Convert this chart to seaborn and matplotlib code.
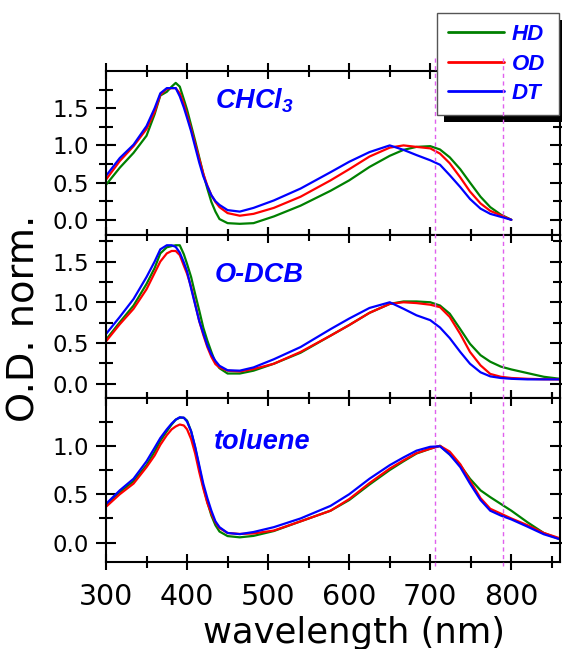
import numpy as np
import pandas as pd
import matplotlib
matplotlib.use("Agg")
import matplotlib.pyplot as plt
import seaborn as sns
from matplotlib.ticker import FixedLocator, MultipleLocator, FormatStrFormatter
from matplotlib.lines import Line2D
from matplotlib.patches import Rectangle
from matplotlib.font_manager import FontProperties
from matplotlib.transforms import blended_transform_factory

# ---------------- data ----------------
samples = ["HD", "OD", "DT"]
sample_colors = ["#008000", "#ff0000", "#0000ff"]
solvent_labels = ["CHCl$_3$", "O-DCB", "toluene"]

wavelength_chcl3 = [300, 317, 334, 350, 360, 367, 375, 381, 386, 391, 396, 400, 405, 410, 415,
                    420, 425, 430, 435, 440, 450, 465, 482, 507, 540, 577, 600, 625, 650, 667,
                    683, 700, 712, 724, 737, 749, 762, 774, 787, 800]
chcl3_HD = [0.47, 0.70, 0.90, 1.13, 1.42, 1.67, 1.72, 1.79, 1.84, 1.79, 1.62, 1.48, 1.27, 1.06, 0.84,
            0.62, 0.42, 0.24, 0.11, 0.01, -0.045, -0.054, -0.045, 0.045, 0.19, 0.39, 0.53, 0.71, 0.86, 0.94,
            0.98, 0.99, 0.945, 0.84, 0.68, 0.50, 0.31, 0.17, 0.07, 0.0]
chcl3_OD = [0.54, 0.79, 0.99, 1.22, 1.45, 1.68, 1.76, 1.77, 1.77, 1.70, 1.56, 1.41, 1.22, 1.02, 0.82,
            0.62, 0.46, 0.33, 0.24, 0.17, 0.09, 0.055, 0.08, 0.16, 0.31, 0.53, 0.68, 0.85, 0.97, 1.0,
            0.98, 0.96, 0.89, 0.76, 0.57, 0.38, 0.22, 0.12, 0.06, 0.0]
chcl3_DT = [0.59, 0.83, 1.01, 1.26, 1.50, 1.70, 1.77, 1.77, 1.77, 1.66, 1.51, 1.37, 1.19, 0.98, 0.77,
            0.585, 0.45, 0.33, 0.25, 0.20, 0.13, 0.11, 0.16, 0.26, 0.42, 0.64, 0.78, 0.91, 1.0, 0.94,
            0.87, 0.80, 0.74, 0.60, 0.44, 0.28, 0.15, 0.08, 0.04, 0.0]

wavelength_odcb = [300, 317, 334, 350, 360, 367, 375, 381, 386, 391, 396, 400, 405, 410, 415,
                   420, 425, 430, 435, 440, 450, 465, 482, 507, 540, 577, 600, 625, 650, 667,
                   683, 700, 712, 724, 737, 749, 762, 774, 787, 800, 820, 840, 860]
odcb_HD = [0.54, 0.755, 0.96, 1.225, 1.42, 1.60, 1.675, 1.69, 1.70, 1.70, 1.59, 1.47, 1.31, 1.10, 0.90,
           0.69, 0.53, 0.39, 0.26, 0.19, 0.125, 0.125, 0.16, 0.245, 0.38, 0.59, 0.72, 0.87, 0.98, 1.01,
           1.01, 1.0, 0.96, 0.86, 0.67, 0.49, 0.35, 0.27, 0.21, 0.175, 0.13, 0.085, 0.06]
odcb_OD = [0.52, 0.73, 0.92, 1.16, 1.36, 1.50, 1.60, 1.63, 1.63, 1.58, 1.45, 1.35, 1.19, 0.98, 0.77,
           0.60, 0.45, 0.33, 0.24, 0.20, 0.16, 0.15, 0.18, 0.245, 0.39, 0.59, 0.72, 0.87, 0.98, 1.0,
           0.99, 0.97, 0.94, 0.82, 0.61, 0.39, 0.225, 0.12, 0.085, 0.07, 0.06, 0.055, 0.053]
odcb_DT = [0.61, 0.82, 1.04, 1.31, 1.50, 1.65, 1.70, 1.70, 1.68, 1.61, 1.49, 1.38, 1.17, 0.97, 0.77,
           0.62, 0.47, 0.36, 0.28, 0.22, 0.165, 0.16, 0.20, 0.30, 0.45, 0.67, 0.80, 0.93, 1.0, 0.92,
           0.84, 0.78, 0.69, 0.56, 0.39, 0.245, 0.14, 0.09, 0.07, 0.06, 0.053, 0.053, 0.053]

wavelength_toluene = [300, 317, 334, 350, 360, 367, 375, 381, 386, 391, 396, 400, 405, 410, 415,
                      420, 425, 430, 435, 440, 450, 465, 482, 507, 540, 577, 600, 625, 650, 667,
                      683, 700, 712, 724, 737, 749, 762, 774, 787, 800, 820, 840, 860]
toluene_HD = [0.39, 0.52, 0.635, 0.80, 0.94, 1.05, 1.15, 1.22, 1.27, 1.29, 1.29, 1.26, 1.15, 0.98, 0.78,
              0.58, 0.42, 0.28, 0.18, 0.115, 0.068, 0.055, 0.07, 0.12, 0.22, 0.33, 0.44, 0.60, 0.75, 0.84,
              0.92, 0.97, 1.0, 0.91, 0.80, 0.66, 0.54, 0.47, 0.40, 0.33, 0.21, 0.10, 0.035]
toluene_OD = [0.37, 0.50, 0.61, 0.78, 0.90, 1.01, 1.11, 1.17, 1.20, 1.22, 1.21, 1.17, 1.07, 0.92, 0.73,
              0.56, 0.41, 0.30, 0.21, 0.15, 0.10, 0.09, 0.095, 0.125, 0.22, 0.33, 0.45, 0.615, 0.765, 0.85,
              0.925, 0.97, 1.0, 0.94, 0.81, 0.64, 0.46, 0.35, 0.30, 0.25, 0.18, 0.10, 0.045]
toluene_DT = [0.40, 0.54, 0.66, 0.84, 0.98, 1.08, 1.17, 1.23, 1.27, 1.295, 1.29, 1.25, 1.15, 0.99, 0.80,
              0.61, 0.46, 0.33, 0.22, 0.16, 0.10, 0.088, 0.11, 0.16, 0.25, 0.38, 0.50, 0.66, 0.80, 0.88,
              0.95, 0.99, 0.995, 0.91, 0.78, 0.61, 0.44, 0.33, 0.28, 0.24, 0.165, 0.087, 0.035]

marker_lines_nm = [706, 790]
x_major_ticks = [300, 400, 500, 600, 700, 800]
panel_label_pos = [(434.6, 1.50), (434.6, 1.25), (432.5, 0.97)]

# --------------- long-form tables ---------------
panels = [
    (wavelength_chcl3, [chcl3_HD, chcl3_OD, chcl3_DT]),
    (wavelength_odcb, [odcb_HD, odcb_OD, odcb_DT]),
    (wavelength_toluene, [toluene_HD, toluene_OD, toluene_DT]),
]
frames = []
for wl, series in panels:
    parts = [pd.DataFrame({"wavelength": wl, "od": vals, "sample": name})
             for name, vals in zip(samples, series)]
    frames.append(pd.concat(parts, ignore_index=True))

# --------------- style ---------------
sns.set_theme(style="ticks")
plt.rcParams["font.family"] = ["DejaVu Sans"]
plt.rcParams.update({
    "axes.linewidth": 1.5,
    "axes.edgecolor": "black",
    "mathtext.fontset": "custom",
    "mathtext.rm": "Liberation Sans:bold:italic",
    "mathtext.it": "Liberation Sans:bold:italic",
    "mathtext.bf": "Liberation Sans:bold:italic",
})

fig, axes = plt.subplots(3, 1, figsize=(5.62, 6.49), dpi=100, sharex=True)
fig.subplots_adjust(left=0.1886, right=0.9964, bottom=0.134, top=0.8906, hspace=0)

palette = dict(zip(samples, sample_colors))
ylims = [(-0.2, 2.0), (-0.18, 1.83), (-0.2, 1.49)]
y_major = [[0, 0.5, 1.0, 1.5], [0, 0.5, 1.0, 1.5], [0, 0.5, 1.0]]
y_minor = [[0.25, 0.75, 1.25, 1.75], [0.25, 0.75, 1.25, 1.75], [0.25, 0.75, 1.25]]

label_font = FontProperties(family="Liberation Sans", weight="bold", style="italic", size=19.5)

for i, ax in enumerate(axes):
    sns.lineplot(data=frames[i], x="wavelength", y="od", hue="sample",
                 hue_order=samples, palette=palette, linewidth=1.6,
                 legend=False, ax=ax, estimator=None)
    ax.set_xlim(300, 860)
    ax.set_ylim(*ylims[i])
    ax.xaxis.set_major_locator(FixedLocator(x_major_ticks))
    ax.xaxis.set_minor_locator(MultipleLocator(50))
    ax.yaxis.set_major_locator(FixedLocator(y_major[i]))
    ax.yaxis.set_minor_locator(FixedLocator(y_minor[i]))
    ax.yaxis.set_major_formatter(FormatStrFormatter("%.1f"))
    ax.set_xlabel("")
    ax.set_ylabel("")
    for s in ax.spines.values():
        s.set_visible(True)
        s.set_linewidth(1.5)
    ax.tick_params(axis="both", which="both", direction="inout", top=True, right=True,
                   width=1.5, color="black", labelcolor="black")
    ax.tick_params(axis="x", which="major", length=11.5, labelsize=20.5, pad=9)
    ax.tick_params(axis="x", which="minor", length=9)
    ax.tick_params(axis="y", which="major", length=14, labelsize=16.5, pad=5.5)
    ax.tick_params(axis="y", which="minor", length=10)
    ax.tick_params(axis="x", labelbottom=(i == 2))
    lx, ly = panel_label_pos[i]
    ax.text(lx, ly, solvent_labels[i], color="#0000ff", fontproperties=label_font,
            ha="left", va="baseline")

# axis labels
fig.text(35 / 562, 1 - 318 / 649, "O.D. norm.", rotation=90, rotation_mode="anchor",
         ha="center", va="baseline", fontsize=27.5, family="DejaVu Sans", color="black")
fig.text(354 / 562, 1 - 643 / 649, "wavelength (nm)", ha="center", va="baseline",
         fontsize=25.5, family="DejaVu Sans", color="black")

# legend with black drop shadow
handles = [Line2D([], [], color=c, lw=2.0) for c in sample_colors]
leg = fig.legend(handles, samples, loc="upper left", mode="expand",
                 bbox_to_anchor=(437 / 562, 1 - 113 / 649, 122 / 562, 100 / 649),
                 bbox_transform=fig.transFigure,
                 prop=FontProperties(family="Liberation Sans", weight="bold", style="italic", size=16),
                 labelcolor="#0000ff", frameon=True, fancybox=False, shadow=False,
                 edgecolor="#555555", facecolor="white", framealpha=1, borderaxespad=0,
                 handlelength=2.5, handletextpad=0.35, labelspacing=0.38, borderpad=0.5)
leg.get_frame().set_linewidth(1.0)
leg.set_zorder(5)

fig.canvas.draw()
bb = leg.get_window_extent()
inv = fig.transFigure.inverted()
(sx0, sy0) = inv.transform((bb.x0 + 7, bb.y0 - 7))
(sx1, sy1) = inv.transform((bb.x1 + 7, bb.y1 - 7))
fig.add_artist(Rectangle((sx0, sy0), sx1 - sx0, sy1 - sy0, transform=fig.transFigure,
                         facecolor="black", edgecolor="none", zorder=4.9))

# dashed marker lines spanning all panels
trans = blended_transform_factory(axes[2].transData, fig.transFigure)
for xv in marker_lines_nm:
    fig.add_artist(Line2D([xv, xv], [1 - 58 / 649, 1 - 566 / 649], transform=trans,
                          color="#e060ee", lw=1.0, ls=(0, (3, 2.5)), zorder=6))

fig.savefig("out.png", dpi=100)
